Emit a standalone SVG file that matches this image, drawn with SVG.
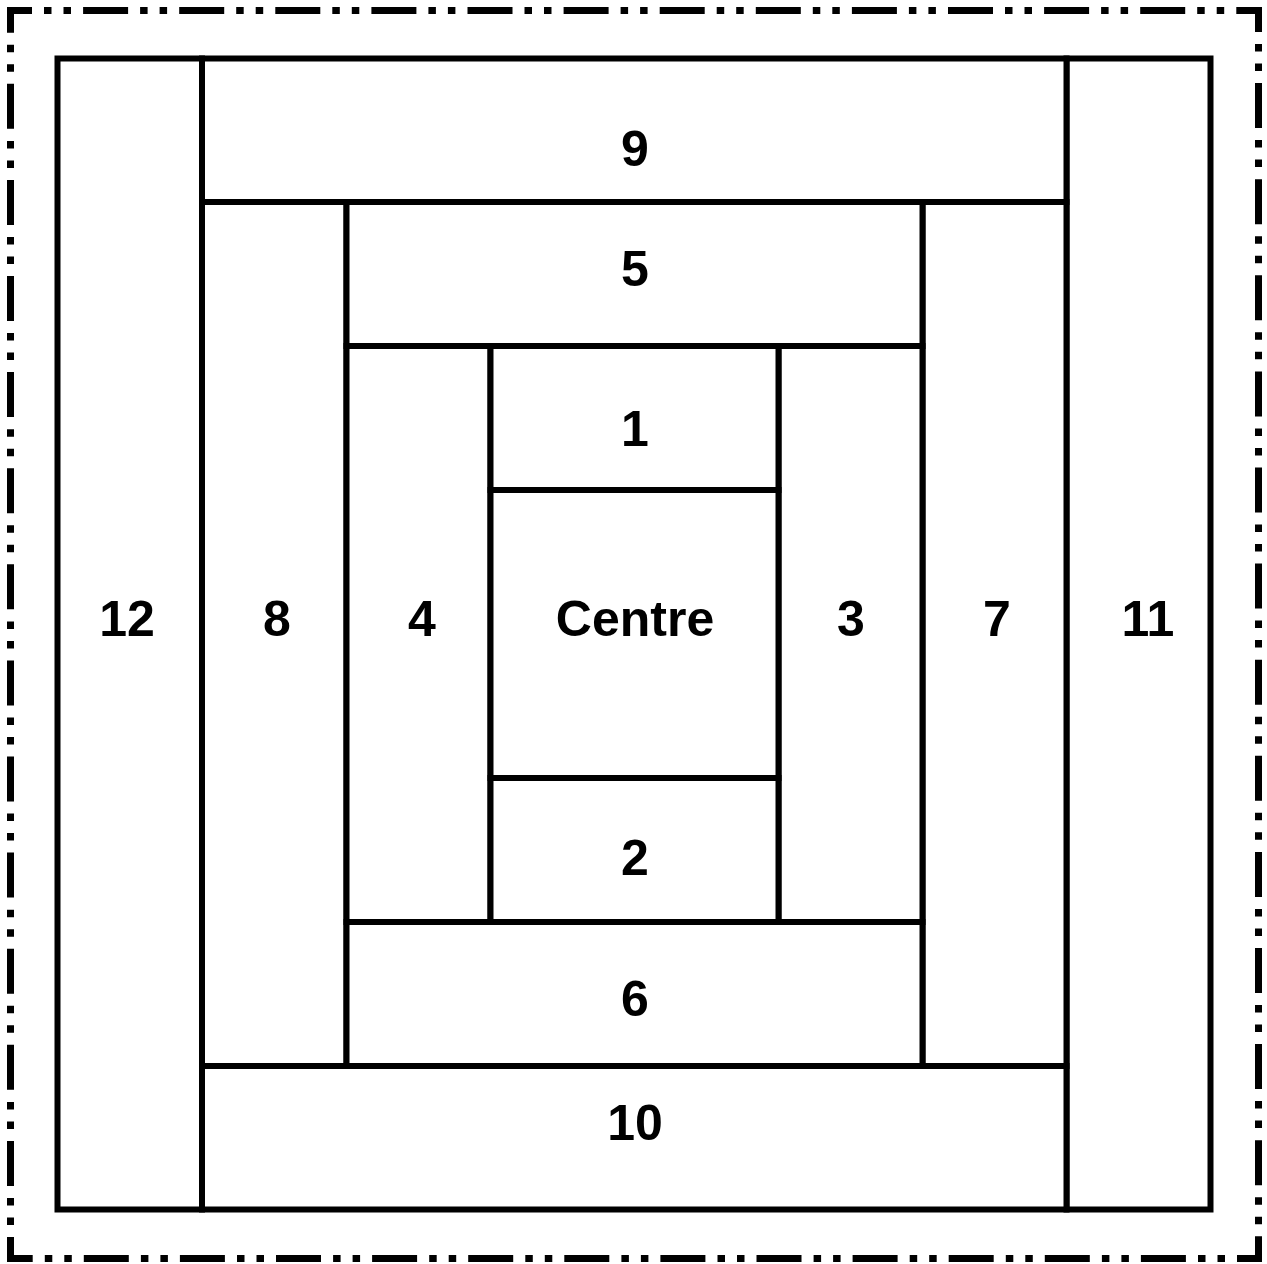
<svg xmlns="http://www.w3.org/2000/svg" width="1267" height="1264" viewBox="0 0 1267 1264">
<style>
.cell{fill:#fff;stroke:#000;stroke-width:6}
.lbl{font-family:"Liberation Sans",Arial,sans-serif;font-weight:bold;font-size:50px;fill:#000;text-anchor:middle}
.border{fill:none;stroke:#000;stroke-width:7;stroke-dasharray:45 12 7.5 12 7.5 12.1;stroke-dashoffset:20}
</style>
<rect x="0" y="0" width="1267" height="1264" fill="#fff"/>
<g id="border">
<path class="border" d="M7 10.5H1262"/>
<path class="border" d="M1258.5 7V1262"/>
<path class="border" d="M1262 1258.5H7"/>
<path class="border" d="M10.5 1262V7"/>
</g>
<g id="n12"><rect class="cell" x="57.5" y="58.5" width="144.5" height="1151"/><text class="lbl" x="127" y="636">12</text></g>
<g id="n11"><rect class="cell" x="1066.5" y="58.5" width="144" height="1151"/><text class="lbl" x="1148" y="636">11</text></g>
<g id="n9"><rect class="cell" x="202" y="58.5" width="864.5" height="143.5"/><text class="lbl" x="635" y="166">9</text></g>
<g id="n10"><rect class="cell" x="202" y="1066" width="864.5" height="143.5"/><text class="lbl" x="635" y="1140">10</text></g>
<g id="n8"><rect class="cell" x="202" y="202" width="144.5" height="864"/><text class="lbl" x="277" y="636">8</text></g>
<g id="n7"><rect class="cell" x="922.5" y="202" width="144" height="864"/><text class="lbl" x="997" y="636">7</text></g>
<g id="n5"><rect class="cell" x="346.5" y="202" width="576" height="144"/><text class="lbl" x="635" y="286">5</text></g>
<g id="n6"><rect class="cell" x="346.5" y="922" width="576" height="144"/><text class="lbl" x="635" y="1016">6</text></g>
<g id="n4"><rect class="cell" x="346.5" y="346" width="144" height="576"/><text class="lbl" x="422" y="636">4</text></g>
<g id="n3"><rect class="cell" x="778.5" y="346" width="144" height="576"/><text class="lbl" x="851" y="636">3</text></g>
<g id="n1"><rect class="cell" x="490.5" y="346" width="288" height="144"/><text class="lbl" x="635" y="446">1</text></g>
<g id="centre"><rect class="cell" x="490.5" y="490" width="288" height="288"/><text class="lbl" x="635" y="636">Centre</text></g>
<g id="n2"><rect class="cell" x="490.5" y="778" width="288" height="144"/><text class="lbl" x="635" y="875">2</text></g>
<g id="connectors"/>
</svg>
